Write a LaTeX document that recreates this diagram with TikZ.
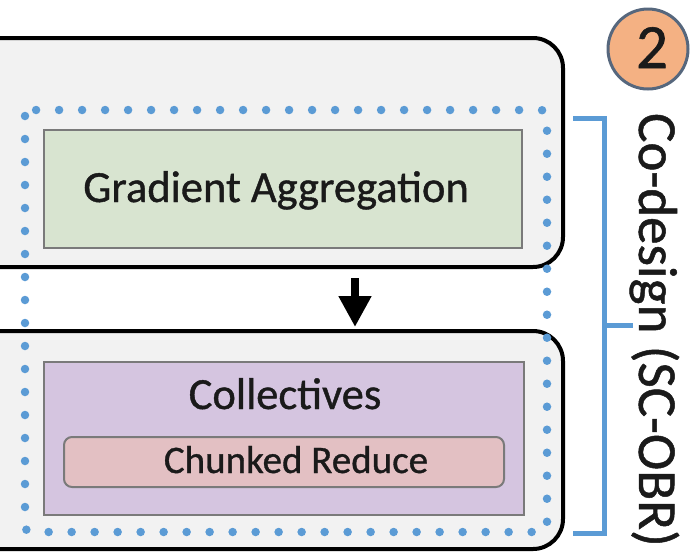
\documentclass[tikz,border=0pt]{standalone}
\usepackage{fontspec}
\setmainfont{Carlito}[FakeBold=0.9]
\usetikzlibrary{arrows.meta}
\definecolor{panelgray}{HTML}{F2F2F2}
\definecolor{aggfill}{HTML}{D8E4D0}
\definecolor{collfill}{HTML}{D5C5E0}
\definecolor{chunkfill}{HTML}{E3C0C3}
\definecolor{innerline}{HTML}{7A7A7A}
\definecolor{codesign}{HTML}{5B9BD5}
\definecolor{badgefill}{HTML}{F4B183}
\definecolor{badgeline}{HTML}{56677D}
\definecolor{ink}{HTML}{1A1A1A}
\tikzset{
  panel/.style={draw=black, line width=4pt, fill=panelgray, rounded corners=30pt, inner sep=0pt},
  stagebox/.style={draw=innerline, line width=2.5pt, inner sep=0pt},
  subbox/.style={draw=innerline, line width=2pt, rounded corners=8pt, inner sep=0pt, fill=chunkfill},
  lbl/.style={anchor=base, inner sep=0pt, text=ink},
  flow/.style={draw=black, line width=8pt, -{Triangle[width=31pt,length=31pt]}},
  dotframe/.style={draw=codesign, line width=8.5pt, line cap=round, dash pattern=on 0pt off 23pt, rounded corners=6pt},
  bracket/.style={draw=codesign, line width=5pt},
}
\begin{document}
\begin{tikzpicture}[x=1pt, y=-1pt]
  \clip (0,0) rectangle (696,558);
  \fill[white] (0,0) rectangle (696,558);

  % two framework panels, cut off on the left
  \node[panel, minimum width=603pt, minimum height=229pt] (toppanel) at (261.5,152.5) {};
  \node[panel, minimum width=603pt, minimum height=218pt] (botpanel) at (261.5,440) {};

  % gradient aggregation stage
  \node[stagebox, fill=aggfill, minimum width=478pt, minimum height=118pt] (agg) at (283,189) {};
  \node[lbl, font=\fontsize{44.5}{50}\selectfont] (aggtext) at (276,202) {Gradient Aggregation};

  % collectives stage with chunked reduce
  \node[stagebox, fill=collfill, minimum width=480pt, minimum height=153pt] (coll) at (284,438.5) {};
  \node[lbl, font=\fontsize{44.5}{50}\selectfont] (colltext) at (285,409) {Collectives};
  \node[subbox, minimum width=440pt, minimum height=50pt] (chunk) at (284,462) {};
  \node[lbl, font=\fontsize{39}{44}\selectfont] (chunktext) at (296,473) {Chunked Reduce};

  % data flow between the stages
  \coordinate (flowx) at (355,0);
  \draw[flow, shorten <=9pt, shorten >=2pt] (toppanel.south -| flowx) -- (botpanel.north -| flowx);

  % co-designed region
  \draw[dotframe] (25,110) rectangle (547,532);

  % bracket and its label
  \coordinate (brtop) at (573,118);
  \coordinate (brbot) at (573,533);
  \coordinate (brmid) at (604,325);
  \coordinate (brtip) at (633,325);
  \draw[bracket] (brtop) -- (brtop -| brmid) -- (brbot -| brmid) -- (brbot);
  \draw[bracket] (brmid) -- (brtip);
  \node[lbl, rotate=-90, font=\fontsize{55}{60}\selectfont] (codesigntext) at (639,330) {Co-design (SC-OBR)};

  % step badge
  \node[circle, draw=badgeline, line width=3pt, fill=badgefill, minimum size=80pt, inner sep=0pt] (badge) at (648,49) {};
  \node[lbl, font=\fontsize{63}{66}\selectfont] (badgetext) at (652,68) {2};
\end{tikzpicture}
\end{document}
